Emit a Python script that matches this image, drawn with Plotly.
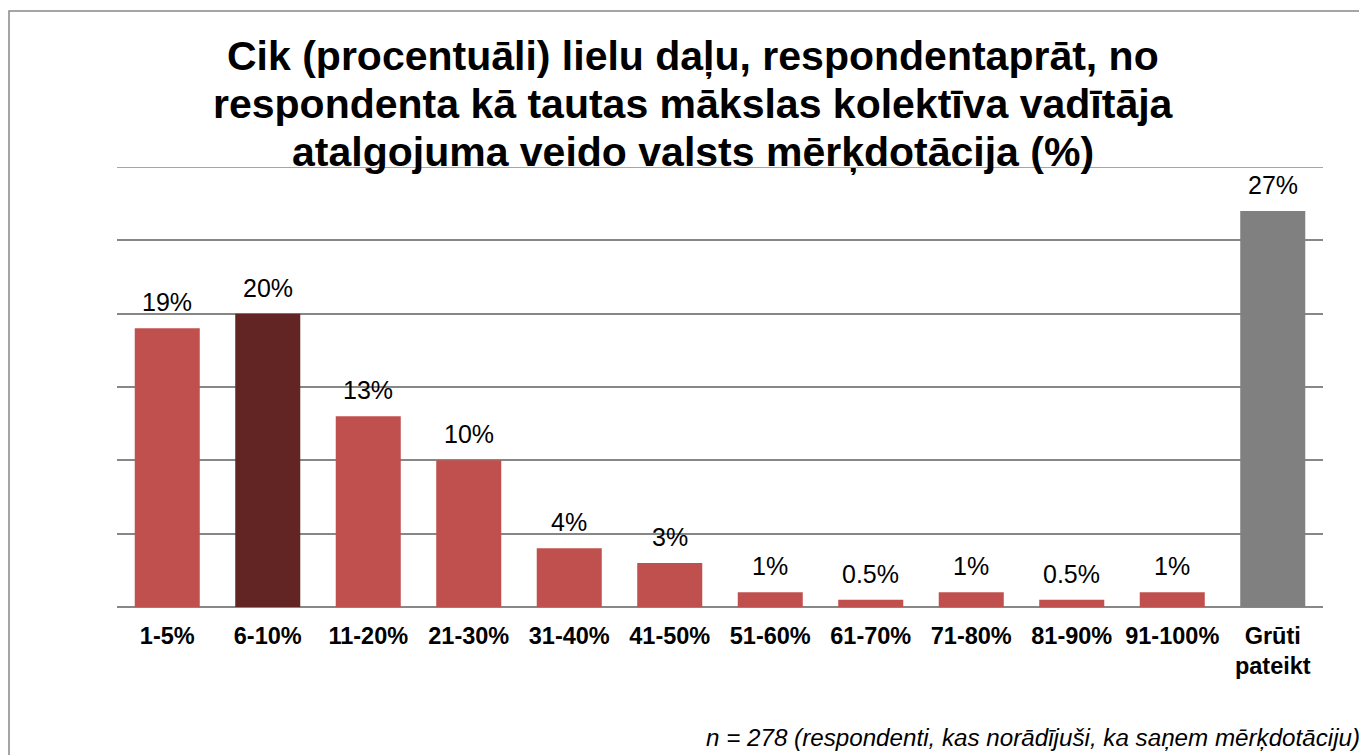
import plotly.graph_objects as go

categories = ["1-5%", "6-10%", "11-20%", "21-30%", "31-40%", "41-50%", "51-60%",
              "61-70%", "71-80%", "81-90%", "91-100%", "Grūti<br>pateikt"]
values = [19, 20, 13, 10, 4, 3, 1, 0.5, 1, 0.5, 1, 27]
labels = ["19%", "20%", "13%", "10%", "4%", "3%", "1%", "0.5%", "1%", "0.5%", "1%", "27%"]
colors = ["#C0504D", "#632523", "#C0504D", "#C0504D", "#C0504D", "#C0504D", "#C0504D",
          "#C0504D", "#C0504D", "#C0504D", "#C0504D", "#808080"]

title_lines = ["Cik (procentuāli) lielu daļu, respondentaprāt, no",
               "respondenta kā tautas mākslas kolektīva vadītāja",
               "atalgojuma veido valsts mērķdotācija (%)"]
note_text = "n = 278 (respondenti, kas norādījuši, ka saņem mērķdotāciju)"

y_max = 30
y_step = 5

# page body has an 8px margin, so the figure is sized to fit the window
W, H = 1359, 747
L, R, T, B = 109, 44, 159, 148
pw, ph = W - L - R, H - T - B


def px_x(x):
    return (x - L) / pw


def px_y(y):
    return (H - B - y) / ph


fig = go.Figure()
fig.add_trace(go.Bar(x=categories, y=values, marker=dict(color=colors, line=dict(width=0)),
                     hoverinfo="skip"))

annotations = []
for c, v, t in zip(categories, values, labels):
    annotations.append(dict(x=c, y=v, text=t, showarrow=False, xref="x", yref="y",
                            yanchor="bottom", yshift=10,
                            font=dict(family="Liberation Sans", size=25, color="#000000")))

title_centers = [48, 96, 144]
for line, yc in zip(title_lines, title_centers):
    annotations.append(dict(x=px_x(685), y=px_y(yc), xref="paper", yref="paper",
                            xanchor="center", yanchor="middle", showarrow=False,
                            text="<b>" + line + "</b>",
                            font=dict(family="Liberation Sans", size=41, color="#000000")))

annotations.append(dict(x=px_x(1354), y=px_y(729), xref="paper", yref="paper",
                        xanchor="right", yanchor="middle", showarrow=False,
                        text="<i>" + note_text + "</i>",
                        font=dict(family="Liberation Sans", size=24.2, color="#000000")))

fig.update_layout(
    width=W, height=H,
    margin=dict(l=L, r=R, t=T, b=B, pad=0),
    paper_bgcolor="white", plot_bgcolor="white",
    bargap=0.353,
    showlegend=False,
    xaxis=dict(showgrid=False, showline=False, ticks="", zeroline=False,
               tickfont=dict(family="Liberation Sans", size=23.5, color="#000000"),
               tickprefix="<b>", ticksuffix="</b>", ticklabelstandoff=12),
    yaxis=dict(range=[0, y_max], dtick=y_step, showgrid=True, gridcolor="#878787", gridwidth=1.5,
               showticklabels=False, zeroline=True, zerolinecolor="#878787", zerolinewidth=1.5,
               showline=False, ticks=""),
    annotations=annotations,
    shapes=[dict(type="rect", xref="paper", yref="paper",
                 x0=px_x(1), x1=px_x(1375),
                 y0=px_y(770), y1=px_y(3),
                 line=dict(color="#888888", width=1.5), fillcolor="rgba(0,0,0,0)",
                 layer="below"),
            # top gridline (plotly omits the gridline at the upper range edge)
            dict(type="line", xref="paper", yref="y", x0=0, x1=1, y0=y_max, y1=y_max,
                 line=dict(color="#878787", width=1.5), layer="below")],
)

fig.write_html("out.html")
